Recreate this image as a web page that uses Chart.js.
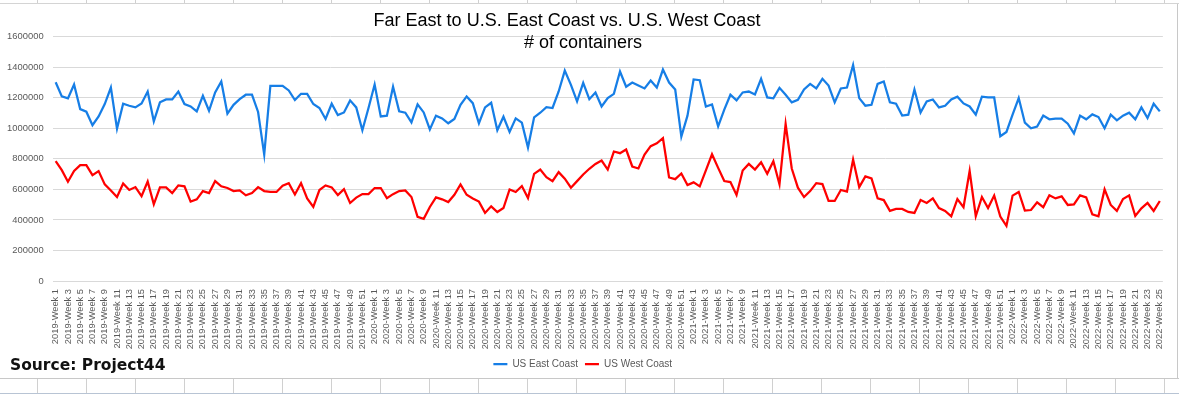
<!DOCTYPE html>
<html>
<head>
<meta charset="utf-8">
<script src="https://cdn.jsdelivr.net/npm/chart.js@4.4.0/dist/chart.umd.min.js"></script>
<style>
  html, body { margin: 0; padding: 0; background: #fff; overflow: hidden; }
  #wrap { position: relative; width: 1179px; height: 394px; background: #fff; }
  .topstrip { position: absolute; left: 0; top: 0; width: 1179px; height: 3px;
    background: repeating-linear-gradient(90deg, transparent 0px, transparent 37px, #d0d0d0 37px, #d0d0d0 38px, transparent 38px, transparent 49px);
    border-bottom: 1px solid #d4d4d4; }
  .botstrip { position: absolute; left: 0; top: 378px; width: 1179px; height: 14px;
    border-top: 1px solid #c8c8c8; border-bottom: 1px solid #b8c4d4;
    background: repeating-linear-gradient(90deg, transparent 0px, transparent 37px, #d0d0d0 37px, #d0d0d0 38px, transparent 38px, transparent 49px); }
  .rightline { position: absolute; left: 1177px; top: 4px; width: 1px; height: 375px; background: #c8c8c8; }
  canvas { position: absolute; left: 0; top: 0; }
  .title { position: absolute; width: 600px; text-align: center; font-family: "Liberation Sans", Arial, sans-serif;
    font-size: 18px; line-height: 18px; color: #000; white-space: nowrap; }
  .source { position: absolute; left: 10px; top: 357.5px; font-family: "DejaVu Sans", sans-serif; font-size: 15.5px;
    font-weight: bold; line-height: 15px; color: #111; white-space: nowrap; }
</style>
</head>
<body>
<div id="wrap">
  <div class="topstrip"></div>
  <div class="botstrip"></div>
  <div class="rightline"></div>
  <canvas id="c" width="1179" height="394"></canvas>
  <div class="title" style="left:267px; top:10.5px;">Far East to U.S. East Coast vs. U.S. West Coast</div>
  <div class="title" style="left:283px; top:33px;"># of containers</div>
  <div class="source">Source: Project44</div>
</div>
<script>
// ---- data ----
const years = [2019, 2020, 2021, 2022];
const weeksPerYear = [52, 52, 52, 25];
const seriesNames = ["US East Coast", "US West Coast"];
const yTicks = [0, 200000, 400000, 600000, 800000, 1000000, 1200000, 1400000, 1600000];

const usEastCoast = [
  1302000, 1209000, 1196000, 1287000, 1126000, 1109000, 1020000, 1078000, 1159000, 1267000,
  998000, 1161000, 1148000, 1137000, 1163000, 1241000, 1046000, 1170000, 1189000, 1189000,
  1241000, 1159000, 1143000, 1111000, 1213000, 1115000, 1235000, 1307000, 1096000, 1154000,
  1191000, 1220000, 1220000, 1107000, 828000, 1278000, 1278000, 1278000, 1248000, 1185000,
  1226000, 1226000, 1159000, 1133000, 1061000, 1161000, 1087000, 1104000, 1183000, 1137000,
  987000, 1133000, 1287000, 1078000, 1083000, 1272000, 1111000, 1102000, 1039000, 1157000,
  1104000, 993000, 1083000, 1065000, 1033000, 1061000, 1154000, 1209000, 1165000, 1033000,
  1137000, 1167000, 987000, 1076000, 976000, 1065000, 1037000, 874000, 1072000, 1102000,
  1139000, 1133000, 1241000, 1378000, 1285000, 1176000, 1298000, 1191000, 1235000, 1143000,
  1198000, 1226000, 1372000, 1272000, 1300000, 1280000, 1261000, 1313000, 1267000, 1385000,
  1300000, 1254000, 946000, 1083000, 1320000, 1315000, 1143000, 1157000, 1013000, 1122000,
  1220000, 1183000, 1235000, 1241000, 1222000, 1324000, 1202000, 1196000, 1265000, 1220000,
  1170000, 1187000, 1254000, 1291000, 1261000, 1324000, 1280000, 1170000, 1261000, 1267000,
  1415000, 1198000, 1148000, 1154000, 1291000, 1307000, 1170000, 1161000, 1083000, 1089000,
  1254000, 1104000, 1176000, 1189000, 1137000, 1148000, 1189000, 1207000, 1163000, 1143000,
  1089000, 1207000, 1202000, 1202000, 948000, 976000, 1089000, 1198000, 1037000, 1000000,
  1011000, 1083000, 1059000, 1063000, 1063000, 1030000, 967000, 1083000, 1059000, 1091000,
  1074000, 1000000, 1089000, 1052000, 1083000, 1102000, 1059000, 1137000, 1067000, 1161000,
  1111000
];

const usWestCoast = [
  785000, 726000, 650000, 720000, 759000, 759000, 693000, 720000, 633000, 593000,
  550000, 639000, 596000, 615000, 556000, 652000, 502000, 613000, 613000, 576000,
  626000, 620000, 520000, 535000, 589000, 576000, 654000, 620000, 609000, 589000,
  593000, 561000, 576000, 615000, 589000, 583000, 583000, 624000, 641000, 567000,
  641000, 541000, 485000, 596000, 626000, 613000, 563000, 602000, 511000, 546000,
  569000, 569000, 609000, 609000, 543000, 569000, 589000, 593000, 550000, 420000,
  407000, 485000, 548000, 535000, 517000, 565000, 633000, 565000, 541000, 520000,
  446000, 489000, 452000, 478000, 600000, 583000, 622000, 543000, 702000, 730000,
  680000, 654000, 713000, 670000, 611000, 654000, 698000, 735000, 767000, 789000,
  730000, 848000, 837000, 861000, 750000, 737000, 828000, 883000, 902000, 935000,
  678000, 667000, 704000, 628000, 646000, 620000, 724000, 830000, 741000, 655000,
  648000, 563000, 724000, 767000, 730000, 778000, 702000, 785000, 633000, 1028000,
  737000, 611000, 550000, 589000, 641000, 635000, 524000, 524000, 596000, 585000,
  796000, 615000, 685000, 672000, 541000, 530000, 459000, 472000, 472000, 452000,
  446000, 530000, 511000, 541000, 478000, 459000, 424000, 537000, 483000, 720000,
  424000, 550000, 478000, 560000, 422000, 361000, 559000, 583000, 461000, 465000,
  515000, 483000, 561000, 541000, 554000, 498000, 502000, 561000, 548000, 437000,
  424000, 600000, 498000, 459000, 537000, 561000, 426000, 476000, 511000, 459000,
  524000
];

// category labels built from years and week counts
const weekLabels = [];
years.forEach((y, k) => {
  for (let w = 1; w <= weeksPerYear[k]; w++) weekLabels.push(y + "-Week " + w);
});

const chart = new Chart(document.getElementById("c"), {
  type: "line",
  data: {
    labels: weekLabels,
    datasets: [
      { label: seriesNames[0], data: usEastCoast, borderColor: "rgb(22,126,230)", backgroundColor: "rgb(22,126,230)",
        borderWidth: 2.25, pointRadius: 0, pointHoverRadius: 0, tension: 0, fill: false },
      { label: seriesNames[1], data: usWestCoast, borderColor: "#ff0000", backgroundColor: "#ff0000",
        borderWidth: 2.25, pointRadius: 0, pointHoverRadius: 0, tension: 0, fill: false }
    ]
  },
  options: {
    responsive: false,
    animation: false,
    devicePixelRatio: 1,
    layout: { padding: { top: 36.7, left: 0, right: 13.5, bottom: 15 } },
    plugins: {
      title: { display: false },
      tooltip: { enabled: false },
      legend: {
        display: true,
        position: "bottom",
        labels: {
          usePointStyle: true,
          pointStyle: "line",
          pointStyleWidth: 14,
          boxHeight: 10,
          padding: 7,
          color: "#595959",
          font: { family: "Liberation Sans, Arial, sans-serif", size: 10 }
        }
      }
    },
    scales: {
      x: {
        offset: true,
        grid: { display: false, drawTicks: false },
        border: { display: false },
        ticks: {
          autoSkip: false,
          minRotation: 90,
          maxRotation: 90,
          padding: 8,
          color: "#595959",
          font: { family: "Liberation Sans, Arial, sans-serif", size: 9.3 },
          callback: function (val, idx) { return idx % 2 === 0 ? this.getLabelForValue(val) : ""; }
        },
        afterFit: function (s) { s.height = 71; }
      },
      y: {
        min: yTicks[0],
        max: yTicks[yTicks.length - 1],
        afterBuildTicks: function (s) { s.ticks = yTicks.map(v => ({ value: v })); },
        grid: { color: "#d9d9d9", lineWidth: 1, drawTicks: false },
        border: { display: false },
        ticks: {
          padding: 9,
          color: "#595959",
          font: { family: "Liberation Sans, Arial, sans-serif", size: 9.4 },
          callback: function (v) { return String(v); }
        },
        afterFit: function (s) { s.width = 52.6; }
      }
    }
  }
});
</script>
</body>
</html>
